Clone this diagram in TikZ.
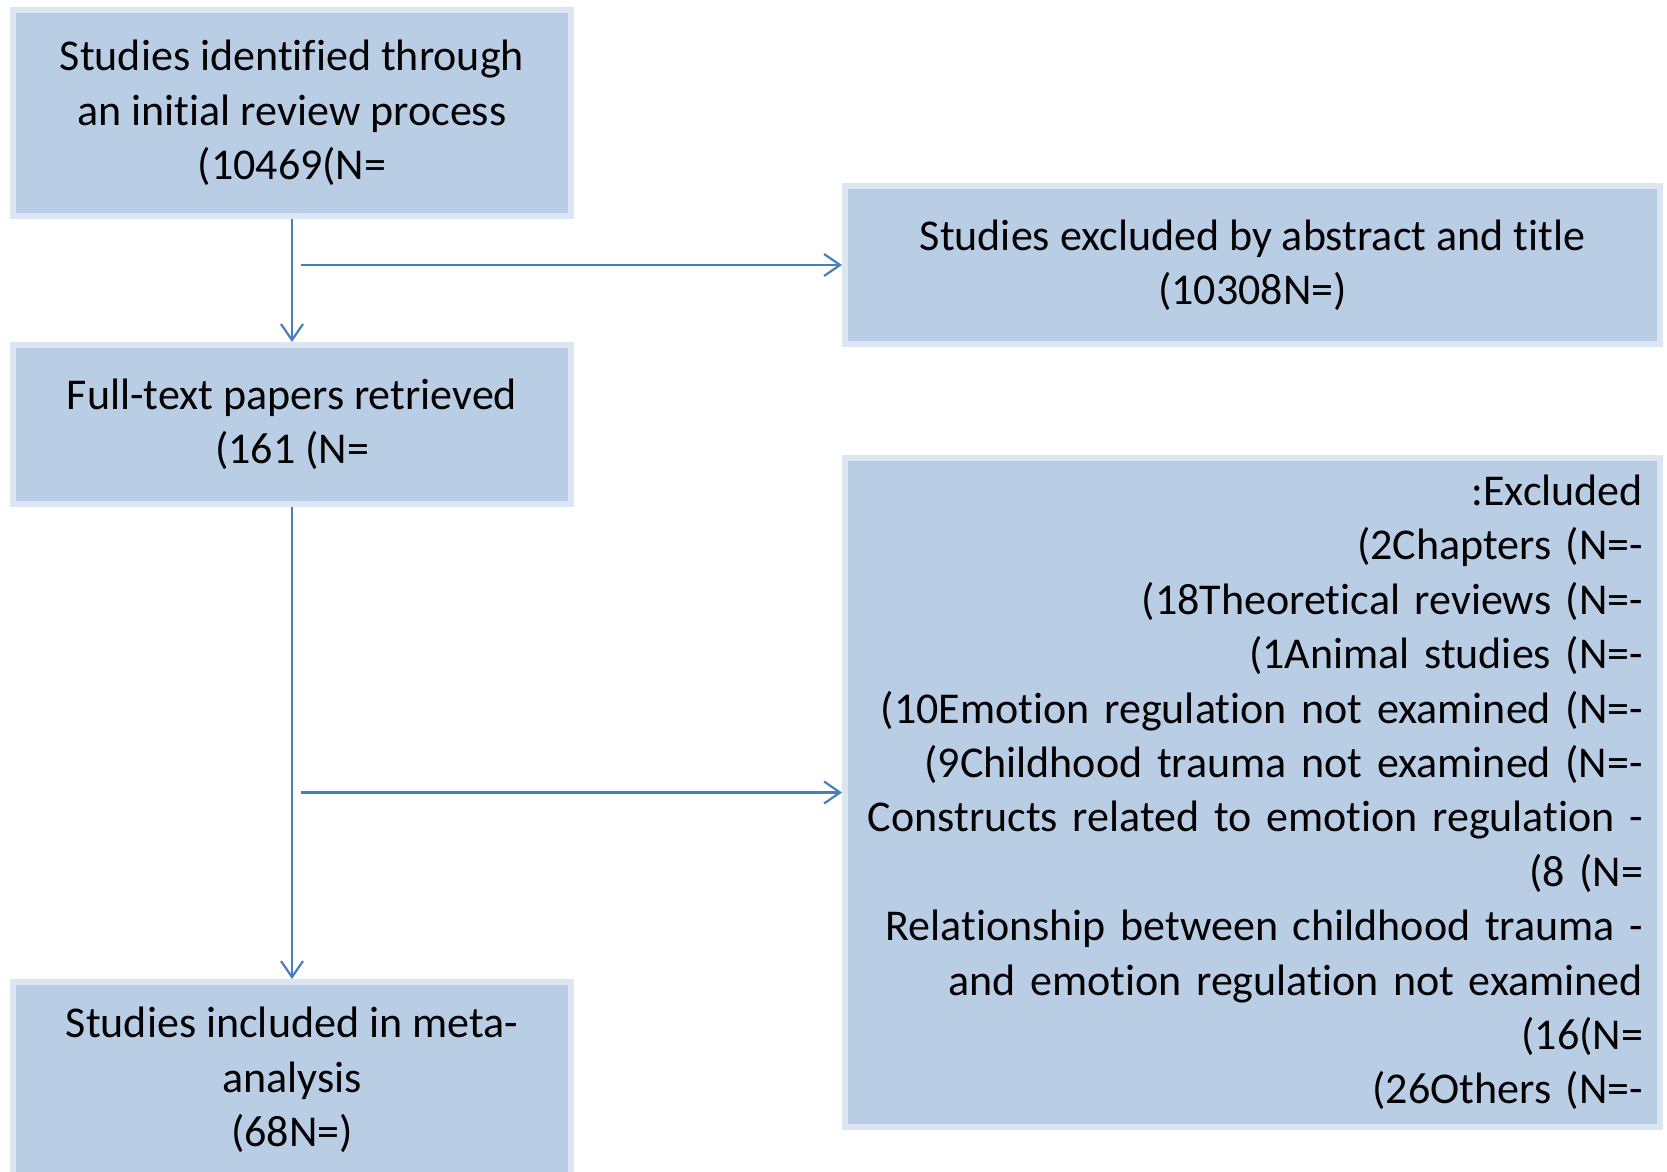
\documentclass[tikz,border=0pt]{standalone}
\usepackage{fontspec}
\setmainfont{Carlito}[Ligatures=NoCommon]
\usetikzlibrary{arrows.meta}
\definecolor{boxfill}{HTML}{B9CDE5}
\definecolor{boxline}{HTML}{DCE6F2}
\definecolor{arrowc}{HTML}{4A7EBB}
\begin{document}
\begin{tikzpicture}[x=0.5pt,y=-0.5pt,
  flowbox/.style={draw=boxline,fill=boxfill,line width=3pt,rectangle,inner sep=0pt,
    font=\fontsize{22pt}{27.2pt}\selectfont,text=black,align=center},
  flowarrow/.style={draw=arrowc,line width=1.25pt,-{Straight Barb[length=8pt,width=11pt,line width=1.1pt]}}]
\useasboundingbox (0,0) rectangle (1667,1172);
\node[flowbox,minimum width=279pt,minimum height=103pt] (b1) at (292,113)
  {Studies identified through\\an initial review process\\(10469(N=};
\node[flowbox,minimum width=407.5pt,minimum height=79pt] (b2) at (1252.5,265)
  {Studies excluded by abstract and title\\(10308N=)};
\node[flowbox,minimum width=279pt,minimum height=79.5pt] (b3) at (292,424.5)
  {Full-text papers retrieved\\(161 (N=};
\node[flowbox,minimum width=279pt,minimum height=98pt] (b5) at (292,1080)
  {Studies included in meta-\\analysis\\(68N=)};
\node[flowbox,minimum width=407.5pt,minimum height=334.5pt,align=right,text width=390.5pt] (b4) at (1252.5,792.5)
  {:Excluded\\(2Chapters (N=-\\(18Theoretical reviews (N=-\\(1Animal studies (N=-\\(10Emotion regulation not examined (N=-\\(9Childhood trauma not examined (N=-\\Constructs related to emotion regulation -\\(8 (N=\\Relationship between childhood trauma -\\and emotion regulation not examined\\(16(N=\\(26Others (N=-};
\coordinate (h1) at (301,265);
\coordinate (h2) at (301,792.5);
\draw[flowarrow] (b1.south) -- (b3.north);
\draw[flowarrow] (b3.south) -- (b5.north);
\draw[flowarrow] (h1) -- (b2.west);
\draw[flowarrow] (h2) -- (b4.west);
\end{tikzpicture}
\end{document}
